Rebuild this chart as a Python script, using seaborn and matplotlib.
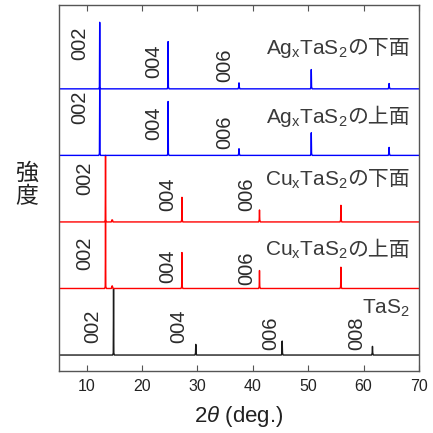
import numpy as np
import pandas as pd
import matplotlib
matplotlib.use("Agg")
import matplotlib.pyplot as plt
import seaborn as sns

# ---- data ----
samples = ["TaS2", "CuxTaS2_upper", "CuxTaS2_lower", "AgxTaS2_upper", "AgxTaS2_lower"]
label_formula = ["TaS$_2$",
                 "Cu$_\\mathrm{x}$TaS$_2$",
                 "Cu$_\\mathrm{x}$TaS$_2$",
                 "Ag$_\\mathrm{x}$TaS$_2$",
                 "Ag$_\\mathrm{x}$TaS$_2$"]
label_face = ["", "の上面", "の下面", "の上面", "の下面"]
colors = ["#1a1a1a", "#ff0000", "#ff0000", "#0000ff", "#0000ff"]

peak_pos_tas2 = [14.85, 29.7, 45.3, 61.6]
peak_h_tas2 = [1.4, 0.16, 0.21, 0.13]
peak_pos_cu = [13.4, 14.6, 27.2, 41.2, 55.9]
peak_h_cu_upper = [1.4, 0.04, 0.54, 0.27, 0.32]
peak_h_cu_lower = [1.4, 0.03, 0.37, 0.18, 0.25]
peak_pos_ag = [12.35, 24.7, 37.5, 50.55, 64.6]
peak_h_ag_upper = [1.4, 0.81, 0.10, 0.34, 0.12]
peak_h_ag_lower = [1.0, 0.71, 0.09, 0.29, 0.08]

peaks = {
    "TaS2": (peak_pos_tas2, peak_h_tas2),
    "CuxTaS2_upper": (peak_pos_cu, peak_h_cu_upper),
    "CuxTaS2_lower": (peak_pos_cu, peak_h_cu_lower),
    "AgxTaS2_upper": (peak_pos_ag, peak_h_ag_upper),
    "AgxTaS2_lower": (peak_pos_ag, peak_h_ag_lower),
}

# hkl labels: (text, x, height above baseline)
hkl_tas2 = [("002", 11.05, 0.43), ("004", 26.67, 0.43), ("006", 43.28, 0.33), ("008", 58.8, 0.33)]
hkl_cu_upper = [("002", 9.69, 0.53), ("004", 24.68, 0.33), ("006", 38.95, 0.31)]
hkl_cu_lower = [("002", 9.69, 0.65), ("004", 24.68, 0.41), ("006", 38.95, 0.41)]
hkl_ag_upper = [("002", 8.79, 0.72), ("004", 22.15, 0.49), ("006", 34.97, 0.35)]
hkl_ag_lower = [("002", 8.79, 0.68), ("004", 22.15, 0.42), ("006", 34.97, 0.35)]
hkl = [hkl_tas2, hkl_cu_upper, hkl_cu_lower, hkl_ag_upper, hkl_ag_lower]
sample_label_y = [0.62, 0.49, 0.55, 0.48, 0.53]   # baseline of the label text

x_ticks = [10, 20, 30, 40, 50, 60, 70]
x_min, x_max = 5, 70

# ---- build stick-like traces ----
base0, spacing = 0.24, 1.0
y_top = 5.5
foot = 0.16

rows = []
for i, s in enumerate(samples):
    pos, h = peaks[s]
    base = base0 + i * spacing
    upper = base + spacing if i < len(samples) - 1 else y_top
    xs, ys = [x_min], [0.0]
    for p, hh in zip(pos, h):
        xs += [p - foot, p - foot / 3, p, p + foot / 3, p + foot]
        ys += [0.0, 0.03, hh, 0.03, 0.0]
    xs.append(x_max)
    ys.append(0.0)
    ys = np.minimum(np.array(ys) + base, upper)
    for k, (xx, yy) in enumerate(zip(xs, ys)):
        rows.append({"sample": s, "x": xx, "y": yy, "order": k})
df = pd.DataFrame(rows)

# ---- plot ----
sns.set_theme(style="ticks")
plt.rcParams["font.family"] = ["Liberation Sans", "Noto Sans CJK JP", "DejaVu Sans"]
plt.rcParams["mathtext.fontset"] = "custom"
plt.rcParams["mathtext.rm"] = "Liberation Sans"
plt.rcParams["mathtext.it"] = "Liberation Sans:italic"

fig = plt.figure(figsize=(4.33, 4.33), dpi=100)
ax = fig.add_axes([59 / 433, 62 / 433, 360 / 433, 366 / 433])

for i, s in enumerate(samples):
    d = df[df["sample"] == s]
    sns.lineplot(data=d, x="x", y="y", color=colors[i], lw=1.0, ax=ax,
                 estimator=None, sort=False, legend=False)

ax.set_xlim(x_min, x_max)
ax.set_ylim(0, y_top)

txt_col = "#2b2b2b"
lab_col = "#3a3a3a"
fig.canvas.draw()
renderer = fig.canvas.get_renderer()
for i, s in enumerate(samples):
    base = base0 + i * spacing
    for t, xx, hh in hkl[i]:
        ax.text(xx, base + hh, t, rotation=90, ha="center", va="center",
                fontsize=14.5, color=txt_col)
    yl = base + sample_label_y[i]
    x_right = 68.4
    if label_face[i]:
        tf = ax.text(x_right, yl, label_face[i], ha="right", va="baseline",
                     fontsize=15, color=lab_col,
                     family=["Noto Sans CJK JP", "DejaVu Sans"])
        bb = tf.get_window_extent(renderer=renderer)
        x_right = ax.transData.inverted().transform((bb.x0, bb.y0))[0]
    ax.text(x_right, yl, label_formula[i], ha="right", va="baseline",
            fontsize=15, color=lab_col)

ax.set_xticks(x_ticks)
ax.set_yticks([])
ax.tick_params(axis="x", direction="in", top=True, length=4, width=0.8,
               labelsize=11.5, colors="#555555", labelcolor="#222222", pad=6)
for sp in ax.spines.values():
    sp.set_color("#555555")
    sp.set_linewidth(1.0)
ax.set_xlabel("2$\\theta$ (deg.)", fontsize=16, color="#222222", labelpad=7)
ax.set_ylabel("")
fig.text(27 / 433, 1 - 185 / 433, "強\n度", ha="center", va="center",
         fontsize=16.5, linespacing=1.05, color="#222222",
         family=["Noto Sans CJK JP", "DejaVu Sans"])

fig.savefig("out.png", dpi=100)
